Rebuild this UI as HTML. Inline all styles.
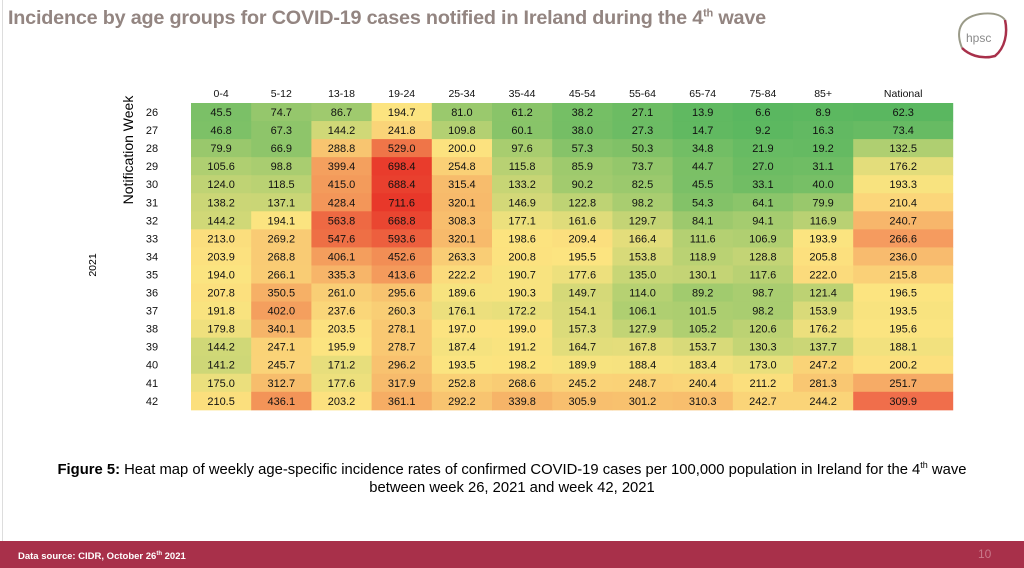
<!DOCTYPE html>
<html><head><meta charset="utf-8">
<style>
body{margin:0;width:1024px;height:568px;overflow:hidden;background:#fff;font-family:"Liberation Sans",sans-serif;position:relative}
.abs{position:absolute}
#title{left:8px;top:7px;font-size:19.8px;font-weight:bold;color:#938581;white-space:nowrap;letter-spacing:-0.2px}
#title sup{font-size:11px}
#footer{left:0;top:541px;width:1024px;height:27px;background:#a8304a}
#src{left:18px;top:10px;font-size:9.5px;font-weight:bold;color:#fff;white-space:nowrap}
#src sup{font-size:6px}
#pg{left:978px;top:6px;font-size:12px;color:#c9788a}
#caption{left:0;width:1024px;top:456px;text-align:center;font-size:14.8px;line-height:18px;color:#000;white-space:nowrap}
</style></head><body>
<div id="leftline" class="abs" style="left:2px;top:0;width:1px;height:541px;background:#ddd"></div>
<div id="title" class="abs">Incidence by age groups for COVID-19 cases notified in Ireland during the 4<sup>th</sup> wave</div>
<svg class="abs" style="left:950px;top:8px" width="60" height="55">
<path d="M12 40 C6 25 8 10 30 6 C45 4 52 8 55 12" fill="none" stroke="#9a9a88" stroke-width="2"/>
<path d="M55 12 C58 25 55 40 45 48 C30 52 18 46 12 40" fill="none" stroke="#a8304a" stroke-width="2.5"/>
<text x="16" y="34" font-size="12" fill="#8a8a8a" font-family="Liberation Sans">hpsc</text>
</svg>
<svg id="chart" class="abs" style="left:0;top:0" width="1024" height="455"></svg>
<div id="caption" class="abs"><b>Figure 5:</b> Heat map of weekly age-specific incidence rates of confirmed COVID-19 cases per 100,000 population in Ireland for the 4<sup style="font-size:9px">th</sup> wave<br>between week 26, 2021 and week 42, 2021</div>
<div id="footer" class="abs">
<div id="src" class="abs">Data source: CIDR, October 26<sup>th</sup> 2021</div>
<div id="pg" class="abs">10</div>
</div>
<script>
const ageGroups=["0-4","5-12","13-18","19-24","25-34","35-44","45-54","55-64","65-74","75-84","85+"];
const weeks=[26,27,28,29,30,31,32,33,34,35,36,37,38,39,40,41,42];
const ageValues=[
[45.5,74.7,86.7,194.7,81.0,61.2,38.2,27.1,13.9,6.6,8.9],
[46.8,67.3,144.2,241.8,109.8,60.1,38.0,27.3,14.7,9.2,16.3],
[79.9,66.9,288.8,529.0,200.0,97.6,57.3,50.3,34.8,21.9,19.2],
[105.6,98.8,399.4,698.4,254.8,115.8,85.9,73.7,44.7,27.0,31.1],
[124.0,118.5,415.0,688.4,315.4,133.2,90.2,82.5,45.5,33.1,40.0],
[138.2,137.1,428.4,711.6,320.1,146.9,122.8,98.2,54.3,64.1,79.9],
[144.2,194.1,563.8,668.8,308.3,177.1,161.6,129.7,84.1,94.1,116.9],
[213.0,269.2,547.6,593.6,320.1,198.6,209.4,166.4,111.6,106.9,193.9],
[203.9,268.8,406.1,452.6,263.3,200.8,195.5,153.8,118.9,128.8,205.8],
[194.0,266.1,335.3,413.6,222.2,190.7,177.6,135.0,130.1,117.6,222.0],
[207.8,350.5,261.0,295.6,189.6,190.3,149.7,114.0,89.2,98.7,121.4],
[191.8,402.0,237.6,260.3,176.1,172.2,154.1,106.1,101.5,98.2,153.9],
[179.8,340.1,203.5,278.1,197.0,199.0,157.3,127.9,105.2,120.6,176.2],
[144.2,247.1,195.9,278.7,187.4,191.2,164.7,167.8,153.7,130.3,137.7],
[141.2,245.7,171.2,296.2,193.5,198.2,189.9,188.4,183.4,173.0,247.2],
[175.0,312.7,177.6,317.9,252.8,268.6,245.2,248.7,240.4,211.2,281.3],
[210.5,436.1,203.2,361.1,292.2,339.8,305.9,301.2,310.3,242.7,244.2]];
const nationalValues=[62.3,73.4,132.5,176.2,193.3,210.4,240.7,266.6,236.0,215.8,196.5,193.5,195.6,188.1,200.2,251.7,309.9];

const NS="http://www.w3.org/2000/svg";
const svg=document.getElementById('chart');
const x0=191,cw=60.2,natW=100,y0=103,rh=18.05;
const xCol=i=>x0+i*cw;
const yRow=j=>y0+j*rh;
function pct(a,p){const s=[...a].sort((u,v)=>u-v);const idx=(s.length-1)*p;const lo=Math.floor(idx);return s[lo]+(s[Math.min(lo+1,s.length-1)]-s[lo])*(idx-lo);}
function mix(c1,c2,t){t=Math.max(0,Math.min(1,t));return 'rgb('+c1.map((v,k)=>Math.round(v+(c2[k]-v)*t)).join(',')+')';}
const G=[90,183,96],Y=[252,228,128],R=[232,56,42],RN=[240,110,75];
function scale(vals,p,red){const mn=Math.min(...vals),mx=Math.max(...vals),md=pct(vals,p);
 return v=>v<=md?mix(G,Y,(v-mn)/(md-mn||1)):mix(Y,red,(v-md)/(mx-md||1));}
const ageScale=scale(ageValues.flat(),0.6,R);
const natScale=scale(nationalValues,0.5,RN);
function el(tag,attrs,txt){const e=document.createElementNS(NS,tag);for(const k in attrs)e.setAttribute(k,attrs[k]);if(txt!==undefined)e.textContent=txt;svg.appendChild(e);return e;}
ageGroups.forEach((g,i)=>{
 const t=el('text',{x:xCol(i)+cw/2,y:97,'text-anchor':'middle','font-size':10.5,fill:'#111'},g);
 
 
});
const nh=el('text',{x:xCol(11)+natW/2,y:97,'text-anchor':'middle','font-size':10.5,fill:'#111'},'National');


weeks.forEach((w,j)=>{
 const t=el('text',{x:152,y:yRow(j)+rh/2+4,'text-anchor':'middle','font-size':11,fill:'#111'},w);
 
 
 ageValues[j].forEach((v,i)=>{
  const r=el('rect',{x:xCol(i),y:yRow(j),width:cw+0.5,height:rh+0.5,fill:ageScale(v)});
  
  
  const tx=el('text',{x:xCol(i)+cw/2,y:yRow(j)+rh/2+4,'text-anchor':'middle','font-size':11,fill:'#111'},v.toFixed(1));
  
  
 });
 const nv=nationalValues[j];
 const r=el('rect',{x:xCol(11),y:yRow(j),width:natW,height:rh+0.5,fill:natScale(nv)});
 
 
 const tx=el('text',{x:xCol(11)+natW/2,y:yRow(j)+rh/2+4,'text-anchor':'middle','font-size':11,fill:'#111'},nv.toFixed(1));
 
 
});
const yt=el('text',{x:0,y:0,transform:'translate(133,150) rotate(-90)','text-anchor':'middle','font-size':14,fill:'#000'},'Notification Week');


const yr=el('text',{x:0,y:0,transform:'translate(96,265) rotate(-90)','text-anchor':'middle','font-size':10.5,fill:'#000'},'2021');


</script>
</body></html>
